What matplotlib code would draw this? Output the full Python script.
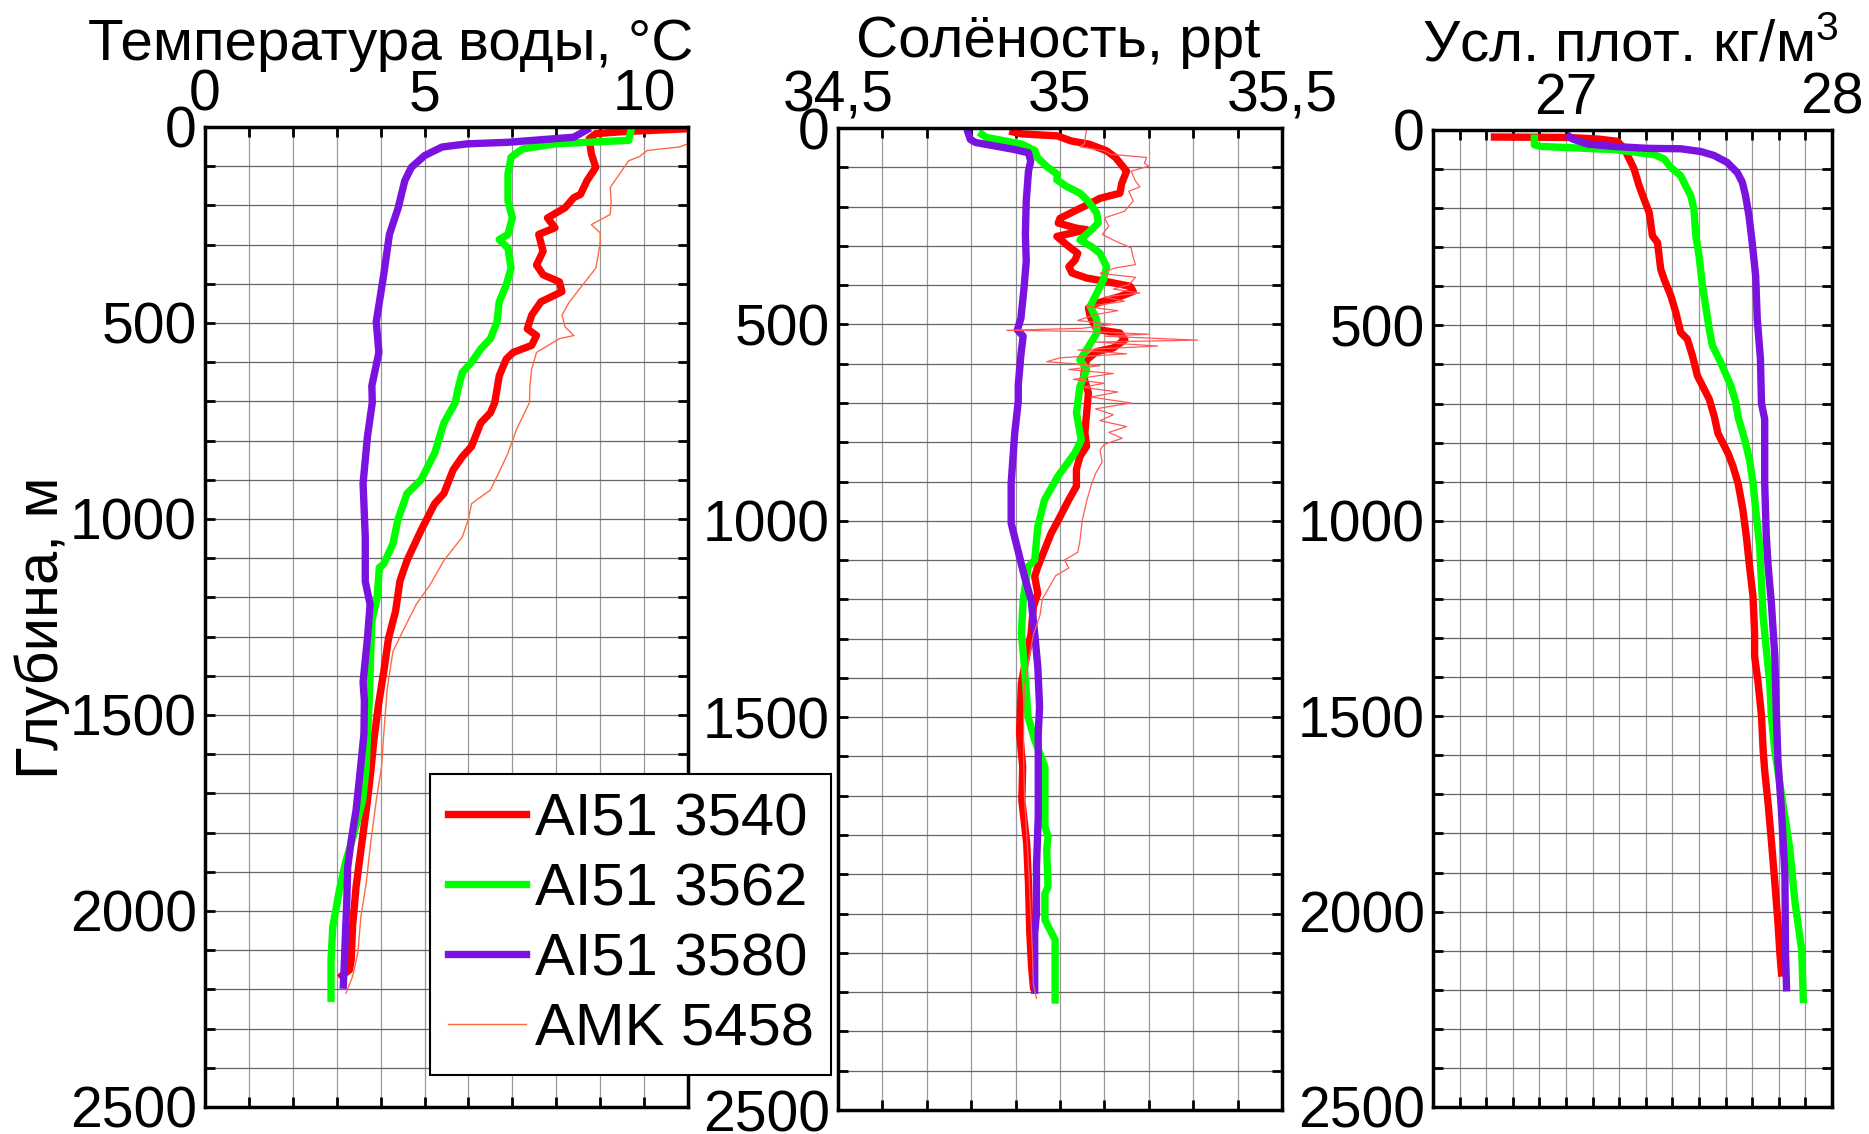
import matplotlib
matplotlib.use("Agg")

import matplotlib.pyplot as plt
from matplotlib.lines import Line2D
from matplotlib.ticker import MultipleLocator

plt.rcParams['font.family'] = ['Liberation Sans', 'DejaVu Sans']
plt.rcParams['mathtext.fontset'] = 'custom'
plt.rcParams['mathtext.rm'] = 'Liberation Sans'
plt.rcParams['mathtext.it'] = 'Liberation Sans'

# ---- temperature, deg C ----
t3540_depth = [5, 12, 17, 30, 69, 103, 137, 172, 180, 206, 232, 257, 274, 317, 352, 377, 395, 420,
               446, 480, 515, 532, 557, 575, 592, 635, 703, 729, 755, 815, 841, 875, 935, 961,
               1029, 1106, 1158, 1235, 1304, 1390, 1475, 1560, 1640, 1718, 1845, 1939, 2040,
               2125, 2150, 2165]
t3540 = [10.9, 9.5, 8.9, 8.75, 8.8, 8.9, 8.7, 8.55, 8.4, 8.2, 7.8, 7.97, 7.6, 7.7, 7.55, 7.7, 8.07,
         8.13, 7.65, 7.44, 7.34, 7.55, 7.44, 7.02, 6.86, 6.7, 6.6, 6.5, 6.28, 6.07, 5.86, 5.65,
         5.44, 5.23, 4.92, 4.6, 4.44, 4.34, 4.18, 4.07, 3.95, 3.85, 3.78, 3.7, 3.55, 3.44, 3.36,
         3.33, 3.29, 3.12]

t3562_depth = [10, 34, 43, 56, 77, 120, 189, 232, 274, 287, 309, 360, 403, 446, 497, 540, 566,
               600, 626, 669, 703, 755, 832, 900, 935, 1003, 1063, 1115, 1124, 1201, 1261, 1390,
               1464, 1633, 1718, 1820, 1871, 1947, 2040, 2125, 2223]
t3562 = [9.7, 9.65, 7.97, 7.23, 6.97, 6.9, 6.9, 7.0, 6.9, 6.7, 6.9, 6.97, 6.86, 6.7, 6.65, 6.5,
         6.28, 6.07, 5.86, 5.76, 5.7, 5.44, 5.23, 4.92, 4.6, 4.39, 4.28, 4.07, 3.97, 3.92, 3.8,
         3.76, 3.74, 3.67, 3.59, 3.35, 3.21, 3.06, 2.91, 2.87, 2.87]

t3580_depth = [7, 26, 39, 43, 51, 73, 103, 137, 206, 274, 377, 497, 575, 660, 703, 789, 909,
               1046, 1159, 1218, 1304, 1416, 1464, 1548, 1659, 1743, 1820, 1888, 1972, 2057,
               2142, 2189]
t3580 = [8.7, 8.4, 6.9, 5.97, 5.4, 5.0, 4.7, 4.55, 4.4, 4.2, 4.07, 3.9, 3.96, 3.8, 3.81, 3.7, 3.6,
         3.65, 3.65, 3.76, 3.7, 3.6, 3.63, 3.62, 3.52, 3.44, 3.33, 3.25, 3.23, 3.2, 3.17, 3.15]

t5458_depth = [35, 43, 51, 60, 75, 86, 120, 154, 190, 223, 249, 270, 292, 330, 360, 403, 446,
               480, 510, 532, 540, 575, 617, 660, 703, 770, 832, 880, 926, 961, 1000, 1046, 1106,
               1167, 1218, 1287, 1338, 1433, 1550, 1633, 1718, 1820, 1930, 2015, 2108, 2167, 2210]
t5458 = [11.3, 11.0, 10.8, 10.07, 9.9, 9.65, 9.44, 9.23, 9.25, 9.23, 8.8, 9.0, 9.0, 8.95, 8.9,
         8.6, 8.3, 8.13, 8.2, 8.4, 8.07, 7.55, 7.44, 7.4, 7.39, 7.1, 6.9, 6.7, 6.5, 6.07, 6.0,
         5.86, 5.44, 5.13, 4.81, 4.5, 4.28, 4.15, 4.07, 4.02, 3.9, 3.78, 3.67, 3.55, 3.48, 3.36,
         3.21]

# ---- salinity, ppt ----
s3540_depth = [10, 15, 20, 33, 41, 58, 75, 110, 141, 166, 179, 192, 213, 230, 242, 255, 259, 276,
               302, 319, 336, 353, 369, 382, 391, 403, 416, 429, 446, 458, 480, 513, 522, 539,
               560, 569, 590, 632, 675, 725, 776, 810, 836, 869, 912, 946, 1005, 1032, 1117,
               1142, 1185, 1219, 1286, 1372, 1414, 1541, 1626, 1711, 1821, 1923, 2050, 2135, 2186]
s3540 = [34.894, 34.914, 34.994, 35.025, 35.065, 35.105, 35.125, 35.15, 35.139, 35.135, 35.09,
         35.068, 35.03, 35.0, 34.996, 35.037, 35.06, 34.993, 35.02, 35.04, 35.034, 35.02, 35.027,
         35.06, 35.105, 35.158, 35.165, 35.135, 35.083, 35.064, 35.068, 35.083, 35.135, 35.146,
         35.12, 35.083, 35.06, 35.053, 35.064, 35.06, 35.056, 35.06, 35.045, 35.037, 35.037,
         35.02, 34.993, 34.98, 34.95, 34.943, 34.95, 34.94, 34.935, 34.92, 34.913, 34.909,
         34.916, 34.914, 34.925, 34.929, 34.932, 34.936, 34.94]

s3562_depth = [16, 24, 41, 58, 75, 97, 118, 132, 149, 166, 187, 217, 242, 259, 285, 302, 319,
               353, 386, 420, 454, 488, 522, 564, 590, 615, 658, 725, 776, 794, 828, 887, 947,
               1015, 1100, 1117, 1202, 1286, 1372, 1499, 1558, 1626, 1778, 1804, 1838, 1932,
               1949, 2016, 2067, 2220]
s3562 = [34.824, 34.834, 34.914, 34.944, 34.949, 34.969, 34.994, 34.993, 35.015, 35.045, 35.064,
         35.083, 35.086, 35.071, 35.045, 35.071, 35.09, 35.105, 35.098, 35.083, 35.068, 35.083,
         35.083, 35.06, 35.045, 35.06, 35.045, 35.037, 35.045, 35.048, 35.033, 34.995, 34.965,
         34.95, 34.943, 34.928, 34.917, 34.913, 34.92, 34.928, 34.943, 34.966, 34.966, 34.973,
         34.97, 34.973, 34.966, 34.966, 34.989, 34.989]

s3580_depth = [12, 29, 37, 54, 63, 84, 110, 186, 271, 339, 407, 484, 514, 530, 577, 654, 696, 777,
               904, 1006, 1074, 1142, 1202, 1286, 1372, 1474, 1541, 1753, 1881, 2000, 2050, 2195]
s3580 = [34.793, 34.798, 34.81, 34.894, 34.929, 34.934, 34.929, 34.924, 34.922, 34.924, 34.919,
         34.912, 34.904, 34.917, 34.912, 34.906, 34.906, 34.898, 34.89, 34.89, 34.905, 34.92,
         34.935, 34.943, 34.95, 34.954, 34.951, 34.951, 34.947, 34.947, 34.943, 34.943]

s5458_depth = [2, 40, 48, 58, 67, 75, 90, 97, 110, 135, 150, 161, 186, 212, 229, 250, 271, 288,
               305, 330, 348, 356, 370, 380, 399, 410, 420, 430, 441, 455, 465, 475, 490, 500,
               510, 515, 518, 525, 530, 540, 545, 555, 565, 575, 585, 595, 605, 615, 625, 640,
               650, 660, 672, 685, 700, 715, 730, 745, 760, 775, 790, 805, 820, 850, 880, 910,
               950, 1000, 1050, 1080, 1100, 1120, 1140, 1170, 1200, 1240, 1290, 1350, 1420, 1500,
               1600, 1700, 1800, 1900, 2000, 2100, 2180, 2216]
s5458 = [35.06, 35.055, 35.045, 35.10, 35.115, 35.195, 35.19, 35.20, 35.16, 35.17, 35.18, 35.155,
         35.165, 35.145, 35.10, 35.11, 35.095, 35.125, 35.16, 35.165, 35.17, 35.125, 35.09,
         35.17, 35.155, 35.12, 35.18, 35.10, 35.145, 35.06, 35.13, 35.08, 35.04, 35.12, 35.05,
         34.88, 35.06, 35.20, 35.10, 35.31, 35.08, 35.22, 35.04, 35.15, 35.0, 34.97, 35.09,
         35.02, 35.12, 35.03, 35.10, 35.05, 35.13, 35.07, 35.16, 35.08, 35.12, 35.09, 35.15,
         35.11, 35.14, 35.10, 35.09, 35.095, 35.08, 35.07, 35.06, 35.05, 35.045, 35.04, 35.01,
         35.02, 34.99, 34.975, 34.96, 34.955, 34.94, 34.93, 34.92, 34.918, 34.918, 34.92,
         34.925, 34.93, 34.934, 34.938, 34.94, 34.947]

# ---- conditional density, kg/m3 ----
d3540_depth = [18, 19, 23, 29, 48, 74, 100, 143, 178, 212, 271, 288, 356, 382, 424, 467, 518, 535,
               577, 629, 688, 734, 776, 827, 861, 904, 972, 1040, 1117, 1193, 1287, 1346, 1414,
               1500, 1585, 1640, 1725, 1818, 1925, 2030, 2106, 2157]
d3540 = [26.731, 27.006, 27.119, 27.194, 27.219, 27.238, 27.256, 27.275, 27.294, 27.313, 27.325,
         27.344, 27.356, 27.369, 27.394, 27.413, 27.431, 27.456, 27.475, 27.494, 27.538, 27.558,
         27.571, 27.609, 27.628, 27.647, 27.665, 27.678, 27.69, 27.703, 27.709, 27.709, 27.722,
         27.735, 27.741, 27.747, 27.76, 27.772, 27.785, 27.797, 27.804, 27.81]

d3562_depth = [21, 38, 42, 50, 63, 74, 96, 117, 143, 168, 203, 271, 321, 398, 508, 551, 594, 653,
               696, 734, 793, 844, 904, 989, 1066, 1159, 1244, 1329, 1414, 1500, 1589, 1700, 1837,
               1972, 2098, 2225]
d3562 = [26.881, 26.881, 26.906, 27.181, 27.331, 27.369, 27.394, 27.431, 27.45, 27.469, 27.481,
         27.488, 27.5, 27.513, 27.538, 27.55, 27.581, 27.619, 27.638, 27.647, 27.672, 27.69,
         27.703, 27.716, 27.728, 27.735, 27.741, 27.753, 27.766, 27.772, 27.785, 27.81, 27.841,
         27.86, 27.886, 27.892]

d3580_depth = [17, 23, 36, 42, 47, 48, 55, 65, 83, 109, 134, 168, 220, 288, 373, 484, 586, 700,
               740, 904, 1040, 1117, 1210, 1346, 1500, 1615, 1742, 1904, 2100, 2195]
d3580 = [27.013, 27.025, 27.081, 27.181, 27.306, 27.431, 27.506, 27.556, 27.606, 27.644, 27.663,
         27.675, 27.688, 27.7, 27.713, 27.719, 27.731, 27.735, 27.747, 27.747, 27.753, 27.76,
         27.772, 27.785, 27.791, 27.797, 27.81, 27.823, 27.825, 27.829]

labels = ["AI51 3540", "AI51 3562", "AI51 3580", "AMK 5458"]

RED, GREEN, PURPLE = "#ff0000", "#00ff00", "#7a12e0"
THIN_T, THIN_S = "#ff6a40", "#ff5a5a"
LW = 5.3
FS = 41

fig = plt.figure(figsize=(18.69, 11.34), dpi=100)
ax1 = fig.add_axes([205 / 1869, 1 - 1107 / 1134, 483 / 1869, 980 / 1134])
ax2 = fig.add_axes([838 / 1869, 1 - 1110 / 1134, 444 / 1869, 982 / 1134])
ax3 = fig.add_axes([1433 / 1869, 1 - 1107 / 1134, 399 / 1869, 977 / 1134])


def style(ax, xlim, major, ticklabels, minor):
    ax.set_xlim(*xlim)
    ax.set_ylim(2500, 0)
    ax.set_xticks(major)
    ax.set_xticklabels(ticklabels)
    ax.xaxis.set_minor_locator(MultipleLocator(minor))
    ax.yaxis.set_major_locator(MultipleLocator(500))
    ax.yaxis.set_minor_locator(MultipleLocator(100))
    ax.tick_params(which="both", direction="in", top=True, bottom=True, left=True, right=True,
                   labeltop=True, labelbottom=False, length=7, width=2)
    ax.tick_params(axis="x", labelsize=FS, pad=3)
    ax.tick_params(axis="y", labelsize=FS, pad=6)
    ax.xaxis.grid(True, which="both", color="0.6", lw=0.9)
    ax.yaxis.grid(True, which="both", color="0.4", lw=0.9)
    for sp in ax.spines.values():
        sp.set_linewidth(2.5)


ax1.plot(t3540, t3540_depth, color=RED, lw=LW)
ax1.plot(t3562, t3562_depth, color=GREEN, lw=LW)
ax1.plot(t3580, t3580_depth, color=PURPLE, lw=LW)
ax1.plot(t5458, t5458_depth, color=THIN_T, lw=1.0)
style(ax1, (0, 11), [0, 5, 10], ["0", "5", "10"], 1)

ax2.plot(s3540, s3540_depth, color=RED, lw=LW)
ax2.plot(s3562, s3562_depth, color=GREEN, lw=LW)
ax2.plot(s3580, s3580_depth, color=PURPLE, lw=LW)
ax2.plot(s5458, s5458_depth, color=THIN_S, lw=0.9)
style(ax2, (34.5, 35.5), [34.5, 35, 35.5], ["34,5", "35", "35,5"], 0.1)

ax3.plot(d3540, d3540_depth, color=RED, lw=LW)
ax3.plot(d3562, d3562_depth, color=GREEN, lw=LW)
ax3.plot(d3580, d3580_depth, color=PURPLE, lw=LW)
style(ax3, (26.5, 28), [27, 28], ["27", "28"], 0.1)

fig.text(391 / 1869, 1 - 60 / 1134, "Температура воды, °C", fontsize=42,
         ha="center", va="baseline")
fig.text(1058 / 1869, 1 - 57 / 1134, "Солёность, ppt", fontsize=42,
         ha="center", va="baseline")
fig.text(1630 / 1869, 1 - 62 / 1134, "Усл. плот. кг/м$^3$", fontsize=42,
         ha="center", va="baseline")
fig.text(42 / 1869, 1 - 628 / 1134, "Глубина, м", fontsize=43, rotation=90,
         ha="center", va="center")

handles = [Line2D([], [], color=RED, lw=LW), Line2D([], [], color=GREEN, lw=LW),
           Line2D([], [], color=PURPLE, lw=LW), Line2D([], [], color=THIN_T, lw=1.0)]
leg = fig.legend(handles, labels, loc="lower left", bbox_to_anchor=(430 / 1869, 1 - 1075 / 1134),
                 fontsize=43, fancybox=False, framealpha=1, edgecolor="black",
                 handlelength=1.3, handletextpad=0.15, labelspacing=0.25, borderpad=0.3,
                 borderaxespad=0)
leg.get_frame().set_linewidth(1.5)

fig.savefig("out.png", dpi=100)
